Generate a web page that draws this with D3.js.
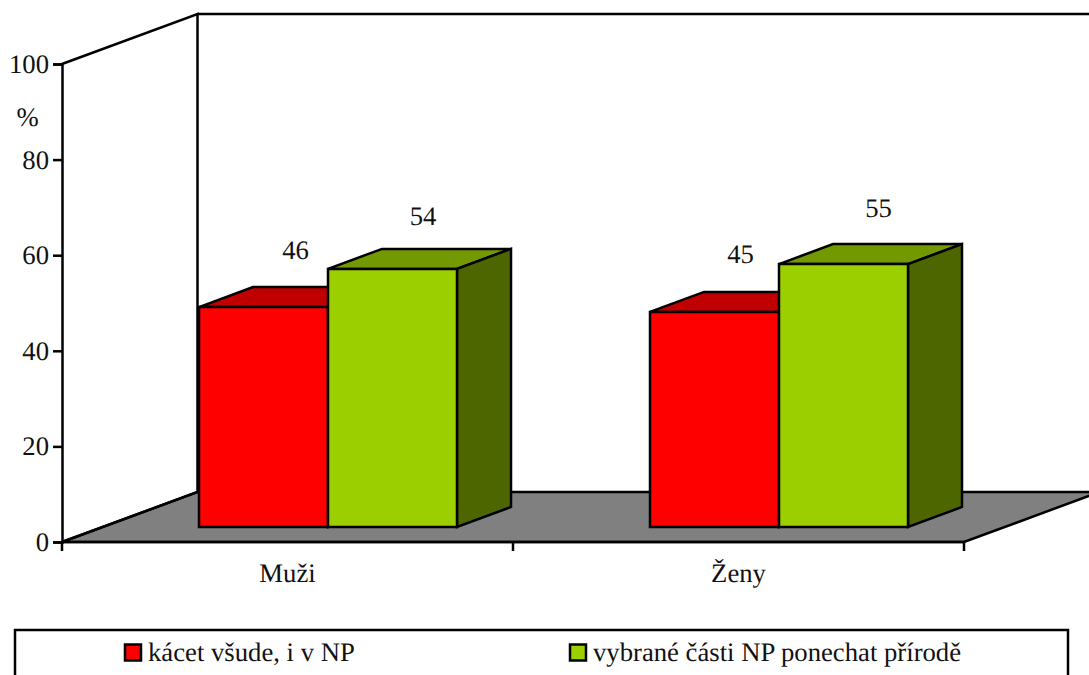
<!DOCTYPE html>
<html><head><meta charset="utf-8">
<script src="https://cdn.jsdelivr.net/npm/d3@7"></script>
<style>html,body{margin:0;padding:0;background:#fff;overflow:hidden}svg{display:block}text{font-family:"Liberation Serif",serif;font-size:26.7px;fill:#111;text-rendering:geometricPrecision}</style>
</head><body><svg id="c" width="1089" height="675"></svg>
<script>
const categories = ["Muži", "Ženy"];
const seriesNames = ["kácet všude, i v NP", "vybrané části NP ponechat přírodě"];
const cutAll = [46, 45];
const keepParts = [54, 55];
const yTicks = [0, 20, 40, 60, 80, 100];
const unitLabel = "%";

const svg = d3.select("#c");
const x = d3.scaleBand().domain(categories).range([62, 964]);
const y = d3.scaleLinear().domain([0, 100]).range([542, 64]);
const depth = {x: 135.5, y: -50};          // wall / floor depth
const front = {x: 40.5, y: -15};           // bar front plane
const side = {x: 54, y: -20};              // bar depth
const barW = 129;
const colors = [
  {f: "#ff0000", t: "#c00000", s: "#800000"},
  {f: "#9ccf00", t: "#739900", s: "#4d6600"}
];
const line = d3.line();
const sw = 2.5;
const X0 = x.range()[0], X1 = x.range()[1], Y0 = y(0), Y1 = y(100);

// floor
svg.append("path")
  .attr("d", line([[X0, Y0], [X0 + depth.x, Y0 + depth.y], [X1 + depth.x, Y0 + depth.y], [X1, Y0]]) + "Z")
  .attr("fill", "#808080").attr("stroke", "#000").attr("stroke-width", sw);
// walls
svg.append("path")
  .attr("d", line([[X0, Y0], [X0 + depth.x, Y0 + depth.y], [X0 + depth.x, Y1 + depth.y], [X0, Y1]]))
  .attr("fill", "none").attr("stroke", "#000").attr("stroke-width", sw);
svg.append("path")
  .attr("d", line([[X0 + depth.x, Y1 + depth.y], [X1 + depth.x, Y1 + depth.y]]))
  .attr("fill", "none").attr("stroke", "#000").attr("stroke-width", sw);

// axes
const yAxis = svg.append("g").attr("transform", `translate(${X0},0)`)
  .call(d3.axisLeft(y).tickValues(yTicks).tickSize(9).tickPadding(4));
yAxis.selectAll("path,line").attr("stroke", "#000").attr("stroke-width", sw);
yAxis.attr("font-size", null).attr("font-family", null);
svg.append("line").attr("x1", X0).attr("x2", X0).attr("y1", Y0).attr("y2", Y0 + 9)
  .attr("stroke", "#000").attr("stroke-width", sw);
svg.append("line").attr("x1", X0).attr("x2", X1).attr("y1", Y0).attr("y2", Y0)
  .attr("stroke", "#000").attr("stroke-width", sw);
categories.forEach(c => {
  const xe = x(c) + x.bandwidth();
  svg.append("line").attr("x1", xe).attr("x2", xe).attr("y1", Y0).attr("y2", Y0 + 9)
    .attr("stroke", "#000").attr("stroke-width", sw);
  svg.append("text").attr("x", x(c) + x.bandwidth() / 2).attr("y", 582)
    .attr("text-anchor", "middle").text(c);
});
svg.append("text").attr("x", 27.5).attr("y", 126).attr("text-anchor", "middle").text(unitLabel);

// bars
const labelNudge = [[32, 30.5], [26, 35]];
const labelLift = [[48, 44], [49, 47]];
categories.forEach((c, ci) => {
  const cx = x(c) + x.bandwidth() / 2 + front.x;
  [cutAll, keepParts].forEach((vals, si) => {
    const v = vals[ci], col = colors[si];
    const l = cx - barW + si * barW, r = l + barW;
    const b = y(0) + front.y, t = y(v) + front.y;
    const g = svg.append("g").attr("stroke", "#000").attr("stroke-width", sw).attr("stroke-linejoin", "miter");
    g.append("path").attr("fill", col.t)
      .attr("d", line([[l, t], [l + side.x, t + side.y], [r + side.x, t + side.y], [r, t]]) + "Z");
    g.append("path").attr("fill", col.s)
      .attr("d", line([[r, t], [r + side.x, t + side.y], [r + side.x, b + side.y], [r, b]]) + "Z");
    g.append("path").attr("fill", col.f)
      .attr("d", line([[l, t], [r, t], [r, b], [l, b]]) + "Z");
    svg.append("text").attr("x", (l + r) / 2 + labelNudge[ci][si]).attr("y", t - labelLift[ci][si])
      .attr("text-anchor", "middle").text(v);
  });
});

// legend
svg.append("rect").attr("x", 15).attr("y", 630).attr("width", 1053).attr("height", 60)
  .attr("fill", "#fff").attr("stroke", "#000").attr("stroke-width", sw);
[125, 570].forEach((lx, i) => {
  svg.append("rect").attr("x", lx).attr("y", 644.5).attr("width", 16).attr("height", 16)
    .attr("fill", colors[i].f).attr("stroke", "#000").attr("stroke-width", sw);
  svg.append("text").attr("x", lx + 23).attr("y", 661).text(seriesNames[i]);
});
</script></body></html>
